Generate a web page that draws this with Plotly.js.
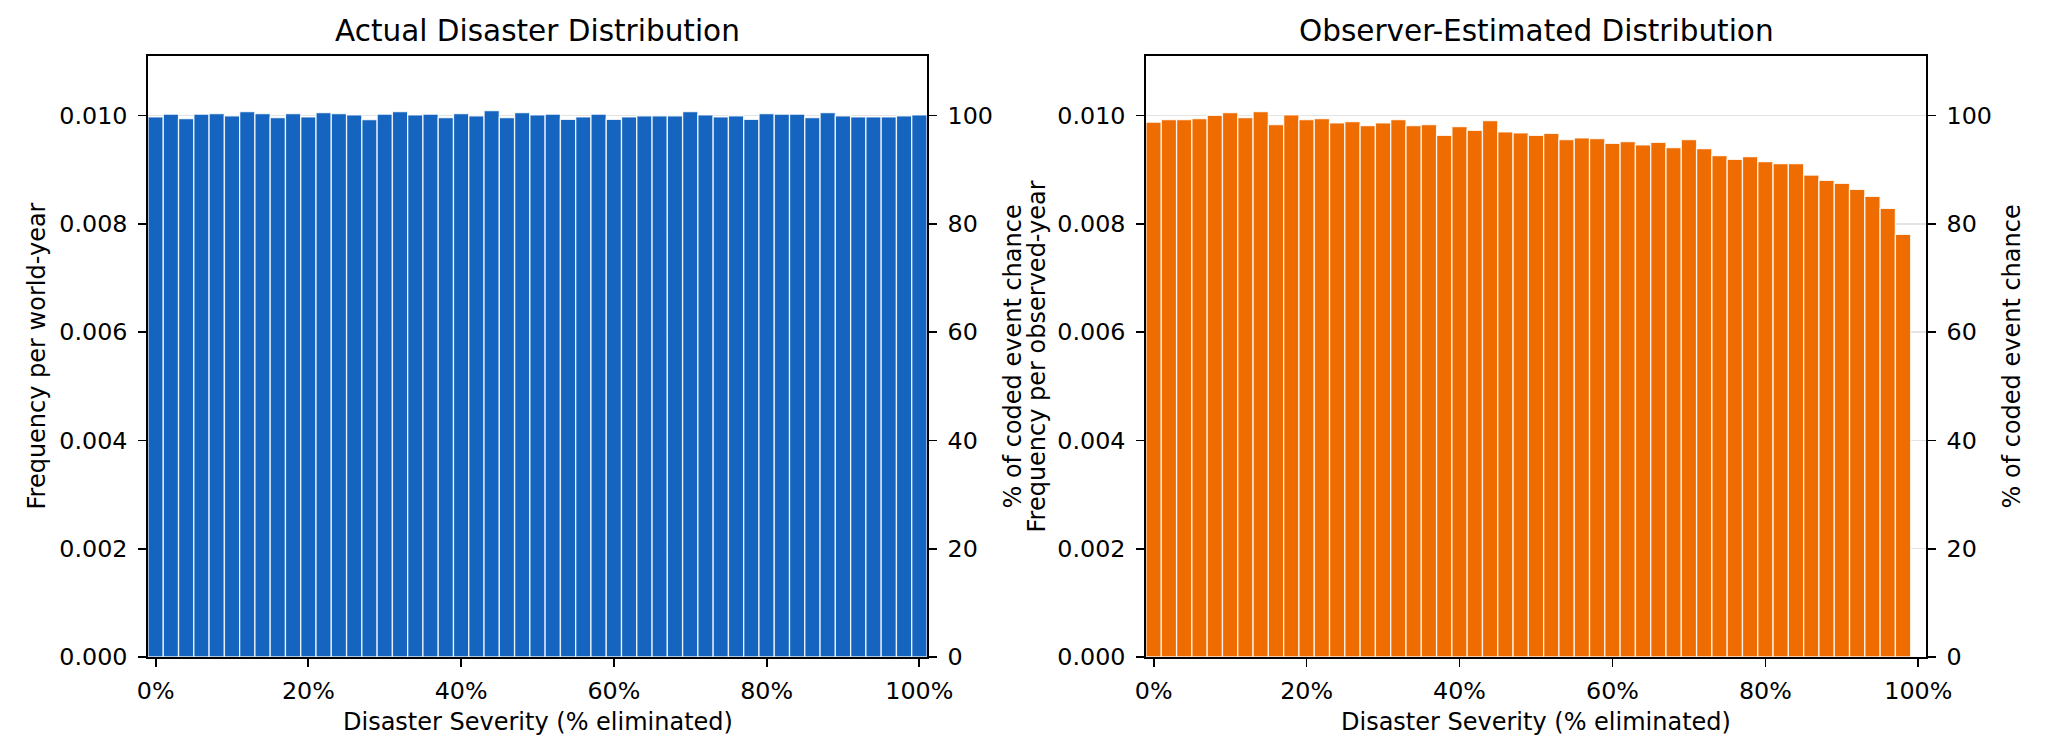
<!DOCTYPE html>
<html>
<head>
<meta charset="utf-8">
<script src="https://cdn.plot.ly/plotly-3.0.1.min.js"></script>
<style>
  html, body { margin: 0; padding: 0; background: #fff; }
  #chart { width: 2048px; height: 745px; }
</style>
</head>
<body>
<div id="chart"></div>
<script>
// bin centres (share of population eliminated)
const severityActual = [0.00, 0.02, 0.04, 0.06, 0.08, 0.10, 0.12, 0.14, 0.16, 0.18,
                        0.20, 0.22, 0.24, 0.26, 0.28, 0.30, 0.32, 0.34, 0.36, 0.38,
                        0.40, 0.42, 0.44, 0.46, 0.48, 0.50, 0.52, 0.54, 0.56, 0.58,
                        0.60, 0.62, 0.64, 0.66, 0.68, 0.70, 0.72, 0.74, 0.76, 0.78,
                        0.80, 0.82, 0.84, 0.86, 0.88, 0.90, 0.92, 0.94, 0.96, 0.98,
                        1.00];
const severityObserved = [0.00, 0.02, 0.04, 0.06, 0.08, 0.10, 0.12, 0.14, 0.16, 0.18,
                          0.20, 0.22, 0.24, 0.26, 0.28, 0.30, 0.32, 0.34, 0.36, 0.38,
                          0.40, 0.42, 0.44, 0.46, 0.48, 0.50, 0.52, 0.54, 0.56, 0.58,
                          0.60, 0.62, 0.64, 0.66, 0.68, 0.70, 0.72, 0.74, 0.76, 0.78,
                          0.80, 0.82, 0.84, 0.86, 0.88, 0.90, 0.92, 0.94, 0.96, 0.98];

// frequency per world-year (actual)
const freqActual = [0.009975, 0.010025, 0.009944, 0.010025, 0.010037, 0.009994, 0.010074, 0.010037, 0.009963, 0.010037,
                    0.009975, 0.010056, 0.010037, 0.010012, 0.009926, 0.010025, 0.010074, 0.010012, 0.010025, 0.009963,
                    0.010037, 0.009994, 0.010093, 0.009963, 0.010056, 0.010012, 0.010025, 0.009932, 0.009975, 0.010025,
                    0.009932, 0.009975, 0.009994, 0.009994, 0.009994, 0.010074, 0.010012, 0.009975, 0.009994, 0.009932,
                    0.010037, 0.010025, 0.010025, 0.009963, 0.010056, 0.009994, 0.009975, 0.009975, 0.009975, 0.009994,
                    0.010012];

// frequency per observed-year (observer estimate)
const freqObserved = [0.009877, 0.009926, 0.009926, 0.009944, 0.010006, 0.010056, 0.009963, 0.010074, 0.009833, 0.010012,
                      0.009926, 0.009944, 0.009864, 0.009889, 0.009815, 0.009864, 0.009926, 0.009815, 0.009833, 0.009636,
                      0.009796, 0.009728, 0.009907, 0.009698, 0.009679, 0.009636, 0.009673, 0.009556, 0.009587, 0.009574,
                      0.009488, 0.009519, 0.009457, 0.009506, 0.009408, 0.009556, 0.009389, 0.009260, 0.009192, 0.009241,
                      0.009149, 0.009112, 0.009112, 0.008902, 0.008803, 0.008748, 0.008636, 0.008507, 0.008285, 0.007804];

const xTickVals = [0, 0.2, 0.4, 0.6, 0.8, 1.0];
const xTickText = ['0%', '20%', '40%', '60%', '80%', '100%'];
const yTickVals = [0, 0.002, 0.004, 0.006, 0.008, 0.010];
const yTickText = ['0.000', '0.002', '0.004', '0.006', '0.008', '0.010'];
const pctTickVals = [0, 20, 40, 60, 80, 100];

// right axis: same frequency expressed as % of the coded 1% event chance
const PCT_PER_FREQ = 10000;

const FONT = 'DejaVu Sans';
const W = 2048, H = 745;
const px = v => v / W;          // pixel -> paper x
const py = v => 1 - v / H;      // pixel -> paper y

const barLine = { color: 'rgba(255,255,255,0.85)', width: 1.3 };

const traces = [
  {
    type: 'bar', x: severityActual, y: freqActual, width: 0.02,
    marker: { color: '#1565C0', line: barLine },
    xaxis: 'x', yaxis: 'y', hoverinfo: 'x+y'
  },
  // invisible twin so the right-hand % axis gets drawn
  {
    type: 'scatter', mode: 'none', x: severityActual,
    y: freqActual.map(v => v * PCT_PER_FREQ),
    xaxis: 'x', yaxis: 'y2', hoverinfo: 'skip'
  },
  {
    type: 'bar', x: severityObserved, y: freqObserved, width: 0.02,
    marker: { color: '#EF6C00', line: barLine },
    xaxis: 'x2', yaxis: 'y3', hoverinfo: 'x+y'
  },
  {
    type: 'scatter', mode: 'none', x: severityObserved,
    y: freqObserved.map(v => v * PCT_PER_FREQ),
    xaxis: 'x2', yaxis: 'y4', hoverinfo: 'skip'
  }
];

const axisLine = {
  showline: true, linecolor: '#000', linewidth: 1.8,
  ticks: 'outside', ticklen: 8, tickwidth: 1.8, tickcolor: '#000',
  zeroline: false, fixedrange: true,
  tickfont: { family: FONT, size: 23.8, color: '#000' }
};

function xAxis(domain, yref) {
  return {
    ...axisLine, domain: domain, anchor: yref, mirror: true,
    range: [-0.01, 1.01], tickmode: 'array', tickvals: xTickVals, ticktext: xTickText,
    showgrid: false, ticklabelstandoff: 4
  };
}
function freqAxis(xref) {
  return {
    ...axisLine, domain: [py(657), py(56)], anchor: xref, mirror: true,
    range: [0, 0.0111], tickmode: 'array', tickvals: yTickVals, ticktext: yTickText,
    showgrid: true, gridcolor: 'rgba(176,176,176,0.35)', gridwidth: 1.5,
    layer: 'above traces', ticklabelstandoff: 6
  };
}
function pctAxis(xref, over) {
  return {
    ...axisLine, anchor: xref, overlaying: over, side: 'right',
    range: [0, 111], tickmode: 'array', tickvals: pctTickVals,
    showgrid: false, ticklabelstandoff: 6
  };
}

const titleFont = { family: FONT, size: 29.5, color: '#000' };
const labelFont = { family: FONT, size: 24, color: '#000' };
const midY = py((56 + 657) / 2);

function note(text, x, y, font, angle) {
  return {
    text: text, x: x, y: y, xref: 'paper', yref: 'paper',
    xanchor: 'center', yanchor: 'middle', showarrow: false,
    textangle: angle || 0, font: font
  };
}

const layout = {
  width: W, height: H,
  margin: { l: 0, r: 0, t: 0, b: 0 },
  paper_bgcolor: '#fff', plot_bgcolor: '#fff',
  showlegend: false, bargap: 0,
  font: { family: FONT, color: '#000' },
  xaxis: xAxis([px(148), px(927)], 'y'),
  yaxis: freqAxis('x'),
  yaxis2: pctAxis('x', 'y'),
  xaxis2: xAxis([px(1146), px(1926)], 'y3'),
  yaxis3: freqAxis('x2'),
  yaxis4: pctAxis('x2', 'y3'),
  annotations: [
    note('Actual Disaster Distribution', px(537.5), py(31), titleFont),
    note('Observer-Estimated Distribution', px(1536), py(31), titleFont),
    note('Disaster Severity (% eliminated)', px(537.5), py(722), labelFont),
    note('Disaster Severity (% eliminated)', px(1536), py(722), labelFont),
    note('Frequency per world-year', px(37), midY, labelFont, -90),
    note('% of coded event chance', px(1013), midY, labelFont, -90),
    note('Frequency per observed-year', px(1037), midY, labelFont, -90),
    note('% of coded event chance', px(2012), midY, labelFont, -90)
  ]
};

Plotly.newPlot('chart', traces, layout, { displayModeBar: false, staticPlot: true });
</script>
</body>
</html>
